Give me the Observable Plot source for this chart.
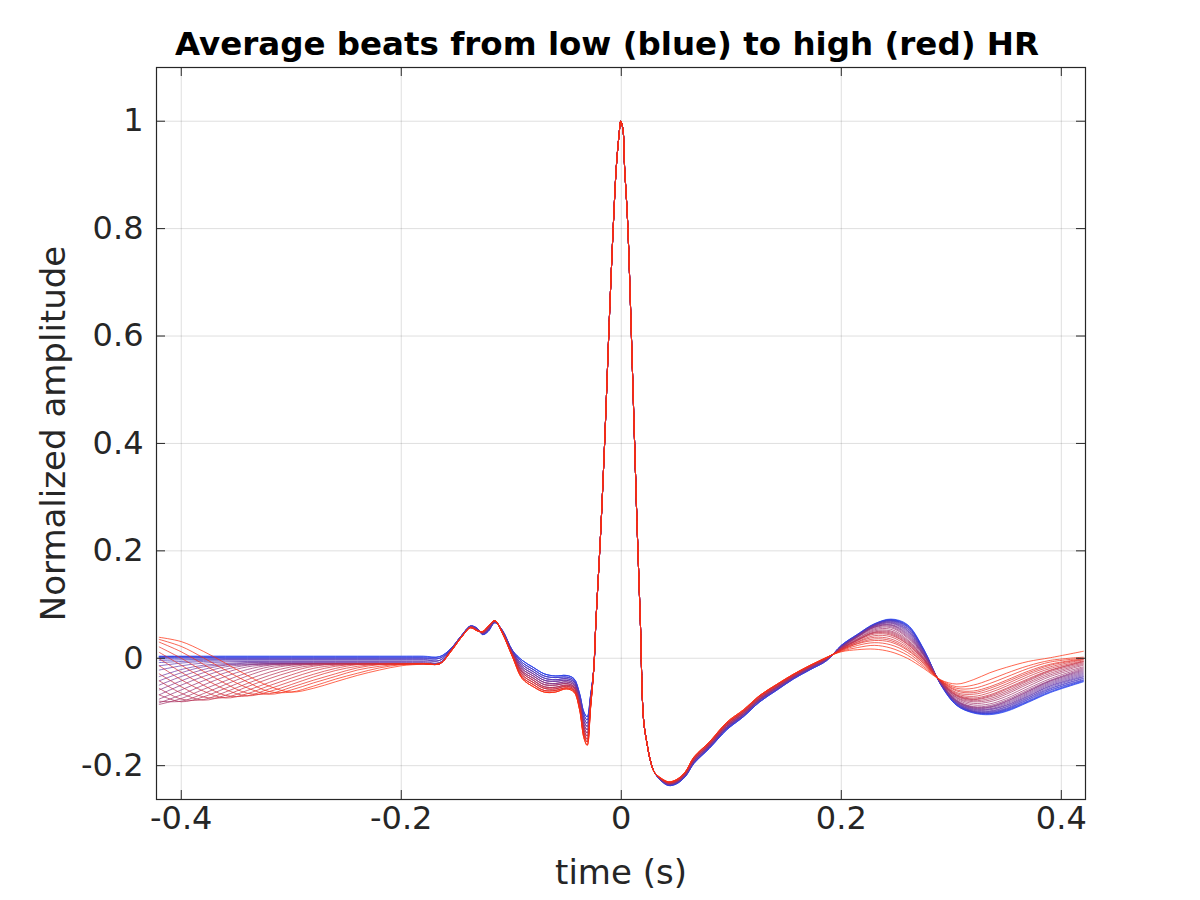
<!DOCTYPE html>
<html><head><meta charset="utf-8">
<script src="https://cdn.jsdelivr.net/npm/d3@7"></script>
<script src="https://cdn.jsdelivr.net/npm/@observablehq/plot@0.6"></script>
<style>body{margin:0;background:#fff}</style>
</head><body><div id="chart"></div>
<script>
const titleText = "Average beats from low (blue) to high (red) HR";
const xLabel = "time (s)";
const yLabel = "Normalized amplitude";
const xTicks = [-0.4, -0.2, 0, 0.2, 0.4];
const yTicks = [-0.2, 0, 0.2, 0.4, 0.6, 0.8, 1];
const xDomain = [-0.4225, 0.422];
const yDomain = [-0.263, 1.1];

// left part (previous beat tail), one row per beat, low HR (0) -> high HR (29)
const tLeft = [-0.42, -0.40, -0.38, -0.36, -0.34, -0.32, -0.30, -0.28, -0.26, -0.24, -0.22, -0.20, -0.18];
const leftBeats = [
  [0.004, 0.004, 0.004, 0.004, 0.004, 0.004, 0.004, 0.004, 0.004, 0.004, 0.004, 0.004, 0.004],
  [0.003, 0.003, 0.003, 0.003, 0.003, 0.003, 0.003, 0.003, 0.003, 0.003, 0.003, 0.003, 0.003],
  [0.003, 0.003, 0.002, 0.002, 0.002, 0.002, 0.002, 0.002, 0.002, 0.002, 0.002, 0.002, 0.002],
  [0.002, 0.002, 0.002, 0.001, 0.001, 0.001, 0.001, 0.001, 0.001, 0.001, 0.001, 0.001, 0.001],
  [0.001, 0.001, 0.001, 0.000, 0.000, 0.000, 0.000, 0.000, 0.000, 0.000, 0.000, 0.000, 0.000],
  [-0.001, -0.001, -0.001, -0.001, -0.001, -0.001, -0.001, -0.001, -0.001, -0.001, -0.001, -0.001, -0.001],
  [-0.004, -0.003, -0.002, -0.002, -0.002, -0.002, -0.002, -0.002, -0.002, -0.002, -0.002, -0.002, -0.002],
  [-0.008, -0.006, -0.004, -0.003, -0.003, -0.003, -0.003, -0.003, -0.003, -0.003, -0.003, -0.003, -0.003],
  [-0.014, -0.009, -0.006, -0.005, -0.005, -0.005, -0.005, -0.005, -0.005, -0.005, -0.005, -0.005, -0.005],
  [-0.022, -0.014, -0.009, -0.007, -0.006, -0.006, -0.006, -0.006, -0.006, -0.006, -0.006, -0.006, -0.006],
  [-0.034, -0.021, -0.013, -0.010, -0.008, -0.008, -0.008, -0.008, -0.008, -0.008, -0.008, -0.008, -0.008],
  [-0.042, -0.027, -0.016, -0.012, -0.009, -0.009, -0.009, -0.009, -0.009, -0.009, -0.009, -0.009, -0.009],
  [-0.050, -0.034, -0.021, -0.013, -0.011, -0.010, -0.010, -0.010, -0.010, -0.010, -0.010, -0.010, -0.010],
  [-0.059, -0.042, -0.027, -0.016, -0.012, -0.010, -0.010, -0.010, -0.010, -0.010, -0.010, -0.010, -0.010],
  [-0.068, -0.050, -0.034, -0.021, -0.013, -0.011, -0.010, -0.010, -0.010, -0.010, -0.010, -0.010, -0.010],
  [-0.076, -0.059, -0.042, -0.027, -0.016, -0.012, -0.010, -0.010, -0.010, -0.010, -0.010, -0.010, -0.010],
  [-0.083, -0.068, -0.050, -0.034, -0.021, -0.013, -0.011, -0.010, -0.010, -0.010, -0.010, -0.010, -0.010],
  [-0.086, -0.075, -0.058, -0.042, -0.027, -0.016, -0.012, -0.010, -0.010, -0.010, -0.010, -0.010, -0.010],
  [-0.080, -0.080, -0.066, -0.049, -0.033, -0.020, -0.013, -0.011, -0.010, -0.010, -0.010, -0.010, -0.010],
  [-0.068, -0.081, -0.072, -0.056, -0.040, -0.026, -0.016, -0.011, -0.010, -0.010, -0.010, -0.010, -0.010],
  [-0.056, -0.076, -0.077, -0.063, -0.047, -0.032, -0.020, -0.013, -0.011, -0.010, -0.010, -0.010, -0.010],
  [-0.042, -0.065, -0.078, -0.069, -0.053, -0.038, -0.025, -0.015, -0.011, -0.010, -0.010, -0.010, -0.010],
  [-0.029, -0.053, -0.072, -0.073, -0.060, -0.045, -0.031, -0.019, -0.013, -0.011, -0.010, -0.010, -0.010],
  [-0.014, -0.040, -0.061, -0.074, -0.066, -0.051, -0.037, -0.024, -0.015, -0.011, -0.010, -0.010, -0.010],
  [-0.001, -0.026, -0.050, -0.069, -0.070, -0.057, -0.043, -0.030, -0.019, -0.012, -0.011, -0.010, -0.010],
  [0.011, -0.013, -0.037, -0.058, -0.070, -0.062, -0.049, -0.035, -0.023, -0.015, -0.011, -0.010, -0.010],
  [0.021, 0.000, -0.024, -0.047, -0.065, -0.066, -0.054, -0.041, -0.029, -0.018, -0.012, -0.011, -0.010],
  [0.030, 0.012, -0.011, -0.035, -0.055, -0.067, -0.059, -0.046, -0.034, -0.022, -0.015, -0.011, -0.010],
  [0.035, 0.022, 0.001, -0.022, -0.044, -0.062, -0.063, -0.052, -0.039, -0.028, -0.018, -0.012, -0.010],
  [0.039, 0.031, 0.013, -0.009, -0.032, -0.052, -0.063, -0.056, -0.044, -0.032, -0.022, -0.014, -0.011]
];

// P wave and Q dip, one row per group of three beats (blue -> red)
const tPQ = [-0.165, -0.155, -0.145, -0.137, -0.131, -0.126, -0.121, -0.115, -0.108, -0.099, -0.09, -0.08, -0.07, -0.06, -0.05, -0.043, -0.038, -0.034, -0.031, -0.028];
const pqGroups = [
  [0.003, 0.018, 0.043, 0.060, 0.056, 0.044, 0.050, 0.066, 0.052, 0.015, -0.004, -0.017, -0.029, -0.033, -0.032, -0.038, -0.065, -0.100, -0.109, -0.070],
  [0.000, 0.017, 0.043, 0.060, 0.055, 0.045, 0.051, 0.067, 0.051, 0.014, -0.008, -0.021, -0.033, -0.036, -0.035, -0.041, -0.068, -0.105, -0.115, -0.073],
  [-0.004, 0.016, 0.042, 0.059, 0.054, 0.046, 0.052, 0.067, 0.051, 0.012, -0.012, -0.025, -0.037, -0.040, -0.038, -0.044, -0.072, -0.111, -0.121, -0.076],
  [-0.008, 0.015, 0.042, 0.059, 0.054, 0.047, 0.053, 0.068, 0.050, 0.011, -0.016, -0.029, -0.041, -0.043, -0.041, -0.047, -0.075, -0.117, -0.127, -0.079],
  [-0.010, 0.015, 0.041, 0.058, 0.053, 0.047, 0.055, 0.068, 0.049, 0.009, -0.020, -0.033, -0.045, -0.047, -0.044, -0.050, -0.079, -0.123, -0.133, -0.082],
  [-0.010, 0.014, 0.041, 0.058, 0.053, 0.048, 0.056, 0.069, 0.049, 0.008, -0.024, -0.037, -0.049, -0.050, -0.047, -0.053, -0.082, -0.128, -0.139, -0.085],
  [-0.010, 0.014, 0.041, 0.058, 0.052, 0.048, 0.057, 0.069, 0.048, 0.007, -0.027, -0.041, -0.053, -0.054, -0.050, -0.055, -0.085, -0.133, -0.145, -0.088],
  [-0.010, 0.013, 0.040, 0.057, 0.052, 0.049, 0.058, 0.070, 0.047, 0.005, -0.031, -0.045, -0.056, -0.057, -0.052, -0.058, -0.089, -0.138, -0.151, -0.090],
  [-0.010, 0.013, 0.040, 0.057, 0.051, 0.049, 0.059, 0.070, 0.047, 0.004, -0.035, -0.049, -0.060, -0.060, -0.055, -0.060, -0.092, -0.143, -0.156, -0.093],
  [-0.010, 0.012, 0.040, 0.057, 0.051, 0.050, 0.060, 0.070, 0.046, 0.003, -0.038, -0.053, -0.063, -0.063, -0.057, -0.063, -0.095, -0.148, -0.162, -0.095]
];

// R wave, shared by all beats
const tR = [-0.025, -0.023, -0.0205, -0.0182, -0.0143, -0.0109, -0.007, -0.0045, -0.002, -0.0005, 0.0015, 0.003, 0.0057, 0.0088, 0.0115, 0.0142, 0.0173, 0.0203, 0.0235, 0.0264, 0.030];
const rWave = [-0.02, 0.071, 0.165, 0.257, 0.443, 0.629, 0.816, 0.915, 0.975, 1.0, 0.985, 0.915, 0.816, 0.629, 0.443, 0.257, 0.071, -0.115, -0.160, -0.190, -0.212];

// S wave and ST segment, one row per group of three beats
const tST = [0.036, 0.043, 0.05, 0.058, 0.066, 0.08, 0.096, 0.111, 0.126, 0.141, 0.157, 0.172, 0.187];
const stGroups = [
  [-0.228, -0.237, -0.234, -0.221, -0.196, -0.168, -0.133, -0.109, -0.081, -0.060, -0.038, -0.021, -0.004],
  [-0.227, -0.236, -0.233, -0.220, -0.195, -0.167, -0.131, -0.108, -0.080, -0.059, -0.037, -0.020, -0.003],
  [-0.227, -0.235, -0.232, -0.219, -0.193, -0.165, -0.130, -0.106, -0.078, -0.058, -0.036, -0.019, -0.003],
  [-0.226, -0.235, -0.231, -0.218, -0.192, -0.164, -0.128, -0.105, -0.077, -0.056, -0.035, -0.018, -0.002],
  [-0.226, -0.234, -0.230, -0.217, -0.191, -0.163, -0.127, -0.104, -0.076, -0.055, -0.034, -0.017, -0.001],
  [-0.225, -0.233, -0.230, -0.216, -0.189, -0.161, -0.125, -0.102, -0.075, -0.054, -0.033, -0.016, -0.001],
  [-0.225, -0.232, -0.229, -0.215, -0.188, -0.160, -0.124, -0.101, -0.073, -0.053, -0.032, -0.015, 0.000],
  [-0.224, -0.232, -0.228, -0.214, -0.187, -0.159, -0.122, -0.099, -0.072, -0.051, -0.031, -0.014, 0.001],
  [-0.224, -0.231, -0.227, -0.213, -0.185, -0.157, -0.121, -0.098, -0.070, -0.050, -0.030, -0.013, 0.001],
  [-0.223, -0.230, -0.226, -0.212, -0.184, -0.156, -0.119, -0.096, -0.069, -0.049, -0.029, -0.013, 0.002]
];

// T wave and following part, one row per beat
const tRight = [0.20, 0.215, 0.23, 0.245, 0.26, 0.275, 0.29, 0.305, 0.32, 0.335, 0.35, 0.37, 0.39, 0.42];
const rightBeats = [
  [0.024, 0.045, 0.064, 0.073, 0.063, 0.017, -0.048, -0.088, -0.102, -0.105, -0.099, -0.082, -0.064, -0.044],
  [0.024, 0.045, 0.064, 0.072, 0.062, 0.016, -0.048, -0.088, -0.101, -0.104, -0.098, -0.081, -0.063, -0.043],
  [0.024, 0.044, 0.063, 0.072, 0.061, 0.016, -0.047, -0.087, -0.101, -0.103, -0.097, -0.080, -0.062, -0.042],
  [0.023, 0.044, 0.063, 0.071, 0.060, 0.015, -0.047, -0.087, -0.100, -0.103, -0.096, -0.079, -0.060, -0.041],
  [0.023, 0.044, 0.063, 0.071, 0.059, 0.014, -0.047, -0.086, -0.100, -0.102, -0.095, -0.077, -0.059, -0.040],
  [0.023, 0.044, 0.062, 0.070, 0.058, 0.014, -0.047, -0.085, -0.099, -0.101, -0.094, -0.076, -0.057, -0.038],
  [0.022, 0.043, 0.062, 0.070, 0.056, 0.013, -0.046, -0.085, -0.099, -0.100, -0.093, -0.074, -0.056, -0.037],
  [0.022, 0.043, 0.062, 0.069, 0.055, 0.012, -0.046, -0.084, -0.098, -0.099, -0.091, -0.073, -0.054, -0.035],
  [0.022, 0.043, 0.061, 0.068, 0.053, 0.011, -0.046, -0.083, -0.097, -0.098, -0.090, -0.071, -0.052, -0.034],
  [0.021, 0.042, 0.061, 0.067, 0.052, 0.010, -0.046, -0.083, -0.096, -0.096, -0.088, -0.070, -0.051, -0.032],
  [0.021, 0.042, 0.060, 0.066, 0.050, 0.009, -0.045, -0.082, -0.095, -0.095, -0.087, -0.068, -0.049, -0.030],
  [0.021, 0.042, 0.060, 0.065, 0.048, 0.008, -0.045, -0.081, -0.094, -0.094, -0.085, -0.066, -0.047, -0.028],
  [0.021, 0.041, 0.059, 0.063, 0.046, 0.007, -0.045, -0.080, -0.093, -0.092, -0.083, -0.064, -0.045, -0.026],
  [0.020, 0.041, 0.058, 0.062, 0.044, 0.006, -0.045, -0.080, -0.092, -0.091, -0.081, -0.062, -0.043, -0.024],
  [0.020, 0.040, 0.058, 0.061, 0.042, 0.006, -0.044, -0.079, -0.091, -0.090, -0.080, -0.061, -0.042, -0.022],
  [0.020, 0.040, 0.057, 0.059, 0.040, 0.005, -0.044, -0.078, -0.090, -0.088, -0.078, -0.059, -0.041, -0.020],
  [0.019, 0.039, 0.055, 0.057, 0.038, 0.003, -0.044, -0.076, -0.087, -0.085, -0.075, -0.056, -0.038, -0.018],
  [0.019, 0.037, 0.053, 0.054, 0.035, 0.001, -0.043, -0.074, -0.084, -0.081, -0.071, -0.052, -0.034, -0.016],
  [0.018, 0.036, 0.051, 0.051, 0.033, 0.000, -0.043, -0.073, -0.081, -0.078, -0.067, -0.048, -0.031, -0.013],
  [0.018, 0.035, 0.049, 0.049, 0.031, -0.001, -0.043, -0.071, -0.079, -0.075, -0.064, -0.045, -0.028, -0.011],
  [0.018, 0.034, 0.048, 0.047, 0.029, -0.002, -0.042, -0.070, -0.077, -0.072, -0.061, -0.042, -0.025, -0.009],
  [0.017, 0.034, 0.047, 0.045, 0.027, -0.003, -0.042, -0.069, -0.076, -0.070, -0.058, -0.040, -0.023, -0.007],
  [0.017, 0.033, 0.045, 0.043, 0.026, -0.004, -0.042, -0.068, -0.074, -0.068, -0.056, -0.038, -0.022, -0.006],
  [0.016, 0.031, 0.042, 0.040, 0.023, -0.006, -0.042, -0.066, -0.071, -0.064, -0.052, -0.034, -0.019, -0.005],
  [0.016, 0.030, 0.039, 0.036, 0.020, -0.007, -0.041, -0.064, -0.067, -0.060, -0.048, -0.030, -0.016, -0.003],
  [0.015, 0.028, 0.036, 0.033, 0.017, -0.009, -0.041, -0.061, -0.064, -0.056, -0.044, -0.027, -0.013, -0.002],
  [0.015, 0.027, 0.033, 0.030, 0.015, -0.010, -0.041, -0.059, -0.061, -0.053, -0.041, -0.024, -0.011, -0.001],
  [0.014, 0.024, 0.029, 0.025, 0.011, -0.013, -0.041, -0.056, -0.056, -0.047, -0.035, -0.019, -0.007, 0.000],
  [0.013, 0.020, 0.024, 0.019, 0.006, -0.016, -0.040, -0.053, -0.050, -0.040, -0.028, -0.014, -0.004, 0.002],
  [0.012, 0.016, 0.017, 0.012, 0.000, -0.019, -0.040, -0.048, -0.040, -0.027, -0.017, -0.006, 0.001, 0.013]
];

const lowColor = "#1f3ff2";
const highColor = "#ff2c0c";

// assemble one long table of points
const points = [];
leftBeats.forEach((leftRow, k) => {
  const g = Math.floor(k / 3);
  const add = (ts, vs) => ts.forEach((t, i) => points.push({k, t, v: vs[i]}));
  add(tLeft, leftRow);
  add(tPQ, pqGroups[g]);
  add(tR, rWave);
  add(tST, stGroups[g]);
  add(tRight, rightBeats[k]);
});
const nBeats = leftBeats.length;

const W = 1200, H = 900;
const mL = 156, mR = 115, mT = 67, mB = 101;
const innerW = W - mL - mR, innerH = H - mT - mB;
const tickLen = 9;
const fmt = d => String(+d.toFixed(2));
const axisColor = "#262626";

const chart = Plot.plot({
  width: W, height: H,
  marginLeft: mL, marginRight: mR, marginTop: mT, marginBottom: mB,
  style: {fontFamily: "DejaVu Sans", background: "#fff"},
  x: {domain: xDomain, label: null},
  y: {domain: yDomain, label: null},
  color: {type: "linear", domain: [0, nBeats - 1], range: [lowColor, highColor], interpolate: "rgb"},
  marks: [
    Plot.gridX(xTicks, {stroke: "#000", strokeOpacity: 0.13, strokeWidth: 1}),
    Plot.gridY(yTicks, {stroke: "#000", strokeOpacity: 0.13, strokeWidth: 1}),
    Plot.line(points, {x: "t", y: "v", z: "k", stroke: "k", strokeWidth: 1, strokeOpacity: 0.72, curve: "catmull-rom", clip: true}),
    Plot.frame({stroke: axisColor, strokeWidth: 1.2}),
    Plot.ruleX(xTicks, {x: d => d, insetBottom: innerH - tickLen, stroke: axisColor}),
    Plot.ruleX(xTicks, {x: d => d, insetTop: innerH - tickLen, stroke: axisColor}),
    Plot.ruleY(yTicks, {y: d => d, insetRight: innerW - tickLen, stroke: axisColor}),
    Plot.ruleY(yTicks, {y: d => d, insetLeft: innerW - tickLen, stroke: axisColor}),
    Plot.axisX({ticks: xTicks, tickSize: 0, tickPadding: 7, tickFormat: fmt, label: null, fontSize: 32, fill: axisColor}),
    Plot.axisY({ticks: yTicks, tickSize: 0, tickPadding: 13, tickFormat: fmt, label: null, fontSize: 32, fill: axisColor}),
    Plot.text([xLabel], {frameAnchor: "bottom", dy: 74, text: d => d, fontSize: 34, fill: axisColor, lineAnchor: "middle"}),
    Plot.text([yLabel], {frameAnchor: "left", dx: -102, rotate: -90, text: d => d, fontSize: 34, fill: axisColor, lineAnchor: "middle", textAnchor: "middle"}),
    Plot.text([titleText], {frameAnchor: "top", dy: -23, dx: -14, text: d => d, fontSize: 32.5, fontWeight: "bold", fill: "#000", lineAnchor: "middle"})
  ]
});
document.getElementById("chart").appendChild(chart);
</script>
</body></html>
